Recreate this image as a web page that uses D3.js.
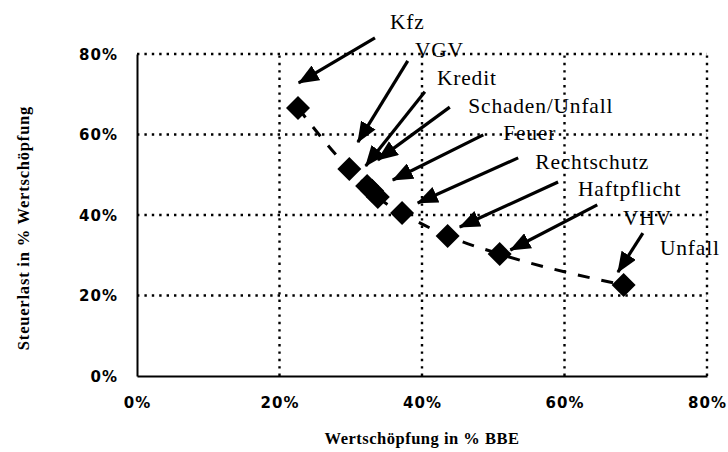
<!DOCTYPE html>
<html>
<head>
<meta charset="utf-8">
<script src="https://cdn.jsdelivr.net/npm/d3@7"></script>
<style>
  html, body { margin: 0; padding: 0; background: #fff; }
  svg { display: block; }
</style>
</head>
<body>
<svg id="chart" width="728" height="452"></svg>
<script>
// ---- data ----
const categories = ["Kfz", "VGV", "Kredit", "Schaden/Unfall", "Feuer", "Rechtschutz", "Haftpflicht", "VHV", "Unfall"];
const wertschoepfung = [22.6, 29.8, 32.3, 33.0, 33.8, 37.2, 43.6, 50.9, 68.3];   // x, % BBE
const steuerlast     = [66.6, 51.4, 47.2, 46.0, 44.5, 40.5, 34.8, 30.3, 22.6];   // y, % Wertschöpfung
const xTicks = [0, 20, 40, 60, 80];
const yTicks = [0, 20, 40, 60, 80];
const xTickLabels = ["0%", "20%", "40%", "60%", "80%"];
const yTickLabels = ["0%", "20%", "40%", "60%", "80%"];
// annotation label anchors and arrows (in data units)
const labelX = [35.5, 39.0, 42.1, 46.5, 51.4, 55.9, 61.9, 68.2, 73.4];
const labelY = [86.2, 79.3, 72.3, 65.3, 58.6, 51.4, 44.7, 37.5, 30.1];
const arrowFromX = [33.4, 38.0, 40.4, 43.9, 48.6, 53.5, 59.1, 64.6, 71.0];
const arrowFromY = [84.0, 78.3, 70.6, 66.8, 59.9, 54.2, 48.2, 42.5, 35.5];
const arrowToX   = [22.7, 31.0, 32.1, 33.8, 35.9, 39.4, 45.3, 52.4, 67.5];
const arrowToY   = [72.8, 58.1, 52.2, 53.7, 48.7, 43.0, 37.0, 31.3, 25.8];
const xTitle = "Wertschöpfung in % BBE";
const yTitle = "Steuerlast in % Wertschöpfung";

// ---- layout ----
const svg = d3.select("#chart");
const margin = { left: 137, right: 21, top: 54, bottom: 76 };
const W = 728, H = 452;
const x = d3.scaleLinear().domain([0, 80]).range([margin.left, W - margin.right]);
const y = d3.scaleLinear().domain([0, 80]).range([H - margin.bottom, margin.top]);

const points = categories.map((c, i) => ({ c, x: wertschoepfung[i], y: steuerlast[i] }));

// grid (dotted)
const grid = svg.append("g");
grid.selectAll("line.h").data(yTicks.filter(d => d > 0)).join("line")
  .attr("x1", x(0)).attr("x2", x(80))
  .attr("y1", d => y(d)).attr("y2", d => y(d))
  .attr("stroke", "#000").attr("stroke-width", 2.4).attr("stroke-dasharray", "2.4,5");
grid.selectAll("line.v").data(xTicks.filter(d => d > 0)).join("line")
  .attr("y1", y(0)).attr("y2", y(80))
  .attr("x1", d => x(d)).attr("x2", d => x(d))
  .attr("stroke", "#000").attr("stroke-width", 2.4).attr("stroke-dasharray", "2.4,5");

// axes (solid lines, custom labels)
const xAxis = d3.axisBottom(x).tickValues(xTicks).tickFormat((d, i) => xTickLabels[i]).tickSize(0).tickPadding(21);
const yAxis = d3.axisLeft(y).tickValues(yTicks).tickFormat((d, i) => yTickLabels[i]).tickSize(0).tickPadding(19);
const gx = svg.append("g").attr("transform", `translate(0,${y(0)})`).call(xAxis);
const gy = svg.append("g").attr("transform", `translate(${x(0)},0)`).call(yAxis);
[gx, gy].forEach(g => {
  g.select(".domain").attr("stroke", "#000").attr("stroke-width", 2);
  g.selectAll("text")
    .attr("font-family", "'DejaVu Sans', sans-serif")
    .attr("font-weight", "bold")
    .attr("font-size", 15)
    .attr("letter-spacing", 1)
    .attr("fill", "#000");
});
gy.selectAll("text").attr("dy", "0.36em");

// dashed trend line
const line = d3.line().x(d => x(d.x)).y(d => y(d.y)).curve(d3.curveMonotoneX);
svg.append("path").datum(points)
  .attr("d", line)
  .attr("fill", "none")
  .attr("stroke", "#000")
  .attr("stroke-width", 3)
  .attr("stroke-dasharray", "12,12");

// diamonds
const dsize = 12;
svg.append("g").selectAll("path").data(points).join("path")
  .attr("d", d => {
    const cx = x(d.x), cy = y(d.y);
    return `M${cx},${cy - dsize}L${cx + dsize},${cy}L${cx},${cy + dsize}L${cx - dsize},${cy}Z`;
  })
  .attr("fill", "#000");

// arrows
svg.append("defs").append("marker")
  .attr("id", "head")
  .attr("markerUnits", "userSpaceOnUse")
  .attr("markerWidth", 21).attr("markerHeight", 17)
  .attr("refX", 20).attr("refY", 8.5)
  .attr("orient", "auto")
  .append("path").attr("d", "M0,0L21,8.5L0,17Z").attr("fill", "#000");

svg.append("g").selectAll("line").data(categories).join("line")
  .attr("x1", (d, i) => x(arrowFromX[i])).attr("y1", (d, i) => y(arrowFromY[i]))
  .attr("x2", (d, i) => x(arrowToX[i])).attr("y2", (d, i) => y(arrowToY[i]))
  .attr("stroke", "#000").attr("stroke-width", 3.2)
  .attr("marker-end", "url(#head)");

// labels
svg.append("g").selectAll("text").data(categories).join("text")
  .attr("x", (d, i) => x(labelX[i])).attr("y", (d, i) => y(labelY[i]))
  .attr("font-family", "'Liberation Serif', serif")
  .attr("font-size", 21.5)
  .attr("letter-spacing", 0.8)
  .attr("fill", "#000")
  .text(d => d);

// axis titles
svg.append("text")
  .attr("x", (x(0) + x(80)) / 2).attr("y", 444)
  .attr("text-anchor", "middle")
  .attr("font-family", "'Liberation Serif', serif")
  .attr("font-weight", "bold").attr("font-size", 16.5).attr("letter-spacing", 0.5)
  .text(xTitle);
svg.append("text")
  .attr("transform", `translate(29,${(y(0) + y(80)) / 2 + 13}) rotate(-90)`)
  .attr("text-anchor", "middle")
  .attr("font-family", "'Liberation Serif', serif")
  .attr("font-weight", "bold").attr("font-size", 16.5).attr("letter-spacing", 0.8)
  .text(yTitle);
</script>
</body>
</html>
